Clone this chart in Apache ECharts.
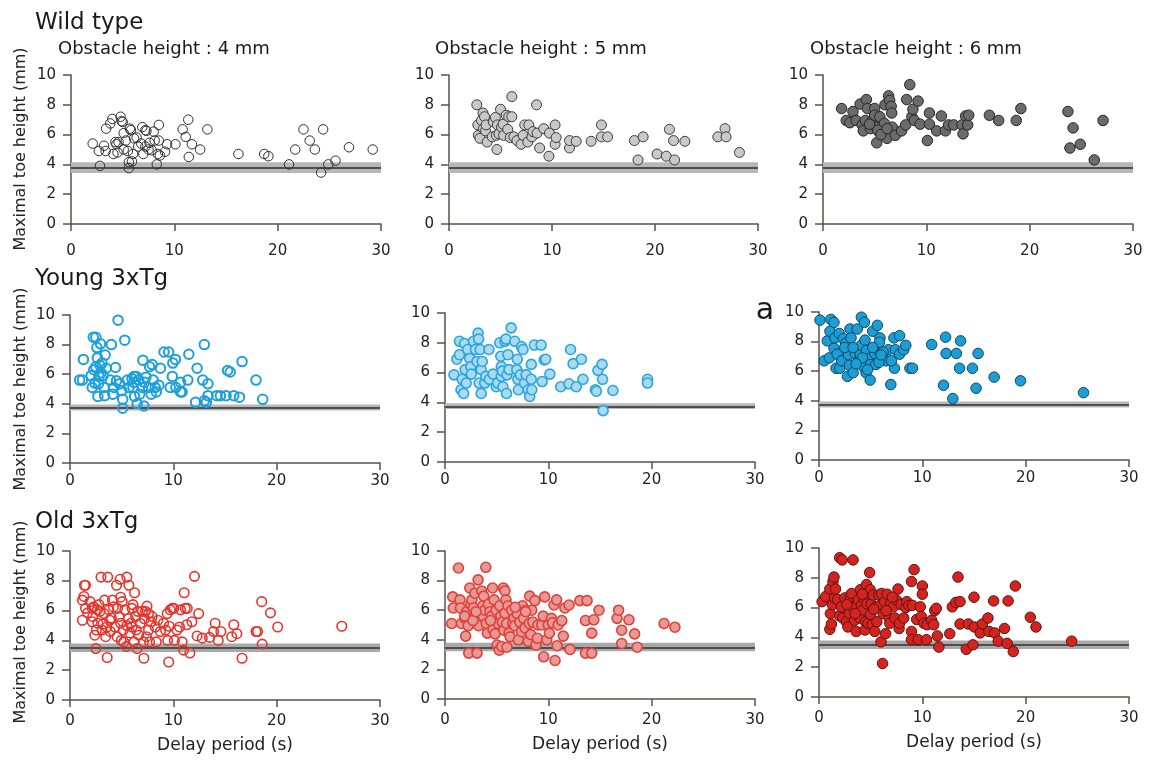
<!DOCTYPE html>
<html><head><meta charset="utf-8">
<script src="https://cdn.jsdelivr.net/npm/echarts@6/dist/echarts.min.js"></script>
<style>html,body{margin:0;padding:0;background:#fff}#c{width:1150px;height:762px}</style>
</head><body><div id="c"></div>
<script>
// ---------- text / ticks ----------
const rowTitles = ['Wild type', 'Young 3xTg', 'Old 3xTg'];
const colTitles = ['Obstacle height : 4 mm', 'Obstacle height : 5 mm', 'Obstacle height : 6 mm'];
const yName = 'Maximal toe height (mm)';
const xName = 'Delay period (s)';
const panelLetter = 'a';
const xRange = [0, 30, 10];
const yRange = [0, 10, 2];

// ---------- threshold bands [low, high, line] per row ----------
const bandWild = [3.42, 4.15, 3.77];
const bandYoung = [3.55, 3.95, 3.73];
const bandOld = [3.22, 3.8, 3.48];

// ---------- data: [delay (s), maximal toe height (mm)] ----------
const wild4 = [[2.1,5.4],[2.7,4.9],[2.8,3.9],[3.2,5.25],[3.35,4.9],[3.4,6.4],[3.8,6.75],[4.0,7.05],[4.1,4.7],[4.3,5.5],[4.4,5.35],[4.8,7.2],[4.9,6.9],[5.0,6.85],[5.1,6.1],[5.1,5.0],[5.3,5.6],[5.5,4.9],[5.6,4.15],[5.7,6.4],[5.6,3.75],[5.9,4.2],[6.0,4.7],[6.1,5.75],[6.35,5.8],[6.8,5.4],[6.9,6.5],[7.0,4.7],[7.2,6.3],[7.2,5.2],[7.3,6.25],[7.6,5.45],[7.8,4.95],[8.0,6.2],[8.1,5.6],[8.3,4.0],[8.4,4.7],[8.5,6.65],[8.5,5.6],[8.6,4.6],[9.1,4.85],[9.3,5.35],[10.1,5.35],[10.8,6.35],[11.1,5.85],[11.35,7.0],[11.4,4.5],[11.7,5.35],[12.5,5.0],[13.2,6.35],[16.2,4.7],[18.7,4.7],[19.1,4.55],[21.1,4.0],[21.7,5.0],[22.5,6.35],[23.1,5.6],[23.6,5.0],[24.2,3.45],[24.4,6.35],[24.9,4.0],[25.6,4.25],[26.9,5.15],[29.2,5.0],[4.6,5.5],[6.5,5.2],[7.5,5.0],[5.8,6.3],[4.5,4.8]];
const wild5 = [[2.7,8.0],[2.8,6.65],[2.85,5.95],[3.0,5.75],[3.15,6.95],[3.3,7.45],[3.35,6.4],[3.45,7.2],[3.55,6.25],[3.6,6.65],[3.7,5.5],[4.2,5.85],[4.3,6.85],[4.5,7.15],[4.6,5.95],[4.65,5.0],[4.7,6.65],[4.85,6.05],[5.0,7.7],[5.1,6.5],[5.25,6.7],[5.3,5.95],[5.55,7.3],[5.7,6.35],[5.8,7.2],[5.95,5.8],[6.1,8.55],[6.1,7.2],[6.3,5.85],[6.6,5.6],[7.0,5.35],[7.2,5.95],[7.35,6.65],[7.65,5.5],[7.75,6.65],[8.05,5.85],[8.15,6.2],[8.5,8.0],[8.55,6.1],[8.8,5.1],[9.2,6.4],[9.7,4.55],[9.75,6.1],[10.3,6.65],[10.3,5.35],[10.4,5.8],[11.7,5.1],[11.7,5.6],[12.35,5.55],[13.8,5.55],[14.8,6.65],[14.8,5.85],[15.4,5.85],[18.0,5.6],[18.35,4.3],[18.85,5.85],[20.2,4.7],[21.1,4.55],[21.4,6.35],[21.8,5.6],[21.9,4.3],[22.9,5.55],[26.1,5.85],[26.8,6.4],[26.9,5.85],[28.2,4.8]];
const wild6 = [[1.8,7.75],[2.25,6.95],[2.6,6.8],[2.9,7.55],[3.2,6.95],[3.6,8.05],[3.8,6.65],[3.9,6.25],[4.1,6.95],[4.2,8.35],[4.3,7.75],[4.6,6.4],[4.8,6.95],[5.0,7.75],[5.0,7.3],[5.15,6.5],[5.2,5.45],[5.4,6.2],[5.5,7.2],[5.65,6.1],[5.9,6.2],[5.95,6.75],[6.0,8.0],[6.2,5.75],[6.35,8.6],[6.45,8.3],[6.6,7.9],[6.65,7.45],[6.7,6.5],[7.0,5.95],[7.6,6.25],[8.0,6.65],[8.1,8.35],[8.4,9.35],[8.6,7.2],[8.7,7.7],[8.85,6.95],[9.2,8.25],[9.4,6.7],[10.1,5.6],[10.3,7.45],[10.3,6.7],[11.0,6.25],[11.45,7.25],[11.85,6.25],[12.15,6.65],[12.65,6.65],[13.45,6.65],[13.55,6.05],[13.8,7.25],[14.0,6.65],[14.1,7.3],[16.1,7.3],[17.0,6.95],[18.7,6.95],[19.15,7.75],[23.7,7.55],[23.9,5.1],[24.2,6.45],[24.9,5.35],[26.25,4.3],[27.1,6.95],[5.3,6.3],[5.6,6.0],[6.2,6.4],[4.5,6.7]];
const young4 = [[0.93,5.6],[1.2,5.6],[1.3,7.0],[2.05,5.9],[2.15,5.1],[2.25,8.5],[2.5,8.5],[2.5,6.5],[2.6,7.8],[2.65,7.1],[2.7,4.5],[2.75,5.35],[2.8,5.85],[2.9,6.6],[2.95,8.05],[3.1,6.75],[3.2,5.9],[3.3,5.1],[3.35,4.55],[3.4,7.3],[3.5,6.4],[3.9,5.6],[4.0,8.0],[4.15,4.65],[4.25,5.1],[4.4,6.45],[4.5,5.55],[4.65,9.65],[4.8,5.35],[5.0,4.9],[5.1,4.3],[5.1,3.7],[5.3,8.3],[5.55,5.6],[5.7,5.1],[6.1,5.1],[6.2,5.45],[6.2,5.85],[6.25,4.5],[6.4,5.85],[6.5,4.0],[6.65,5.6],[6.75,4.65],[7.0,5.1],[7.05,6.95],[7.15,3.85],[7.2,5.45],[7.35,5.8],[7.6,5.1],[7.7,6.5],[7.85,4.65],[7.95,6.65],[8.05,5.6],[8.25,5.1],[8.35,4.8],[8.6,5.25],[8.75,6.4],[9.1,7.5],[9.55,7.5],[9.7,5.1],[9.9,5.85],[9.95,6.75],[10.2,7.0],[10.25,5.1],[10.7,5.45],[10.7,4.8],[10.85,4.8],[11.4,5.6],[11.5,7.35],[12.3,6.4],[12.15,4.1],[12.85,5.6],[13.0,8.0],[13.0,4.2],[13.2,4.1],[13.35,5.35],[13.35,4.55],[14.2,4.55],[14.55,4.55],[15.1,4.55],[15.25,6.25],[15.5,6.15],[15.85,4.55],[16.4,4.45],[16.65,6.85],[18.0,5.6],[18.65,4.3],[2.3,6.3],[3.0,6.1],[6.0,5.7],[2.4,5.4]];
const young5 = [[0.87,5.85],[1.15,6.9],[1.4,8.1],[1.4,7.2],[1.55,4.85],[1.65,5.55],[1.8,4.6],[1.9,7.95],[1.95,6.2],[2.05,5.3],[2.2,7.55],[2.4,6.95],[2.5,6.4],[2.55,5.9],[2.75,8.1],[2.95,7.55],[3.1,6.75],[3.2,8.65],[3.25,8.25],[3.3,5.3],[3.4,7.55],[3.5,6.2],[3.5,4.6],[3.6,6.75],[3.85,5.3],[3.95,5.75],[4.25,7.55],[4.3,5.55],[4.65,5.9],[4.95,5.05],[5.1,5.3],[5.3,8.0],[5.4,7.1],[5.45,6.4],[5.45,5.75],[5.55,6.1],[5.6,5.05],[5.8,8.1],[5.9,8.25],[5.95,4.6],[6.0,5.85],[6.1,7.2],[6.2,6.2],[6.4,9.0],[6.75,8.1],[6.95,6.2],[7.0,6.9],[7.05,5.55],[7.1,4.85],[7.3,5.85],[7.4,7.75],[7.55,7.55],[7.7,5.3],[7.85,5.85],[8.05,4.85],[8.2,4.4],[8.35,6.55],[8.35,5.55],[8.4,4.85],[8.65,7.85],[9.3,7.85],[9.4,5.4],[9.6,6.85],[9.75,6.9],[10.15,5.9],[11.2,5.05],[12.0,5.25],[12.15,7.55],[12.4,6.6],[12.7,5.05],[13.2,6.9],[13.35,5.55],[14.55,4.85],[14.65,4.75],[14.8,6.15],[15.2,6.55],[15.25,5.55],[15.3,3.45],[16.25,4.8],[19.6,5.55],[19.6,5.3]];
const young6 = [[0.1,9.45],[0.5,6.7],[0.8,8.05],[1.0,6.9],[1.06,8.7],[1.15,9.5],[1.45,9.3],[1.45,7.55],[1.55,8.25],[1.65,6.2],[1.75,7.15],[1.95,8.55],[2.0,6.2],[2.2,6.7],[2.35,8.2],[2.6,7.9],[2.75,5.65],[2.85,7.1],[2.95,6.4],[3.0,8.85],[3.1,8.25],[3.3,5.9],[3.5,7.2],[3.7,8.85],[3.8,6.7],[4.0,7.1],[4.1,9.65],[4.1,7.75],[4.3,6.3],[4.4,9.3],[4.45,8.1],[4.55,5.9],[4.6,7.4],[4.8,6.85],[4.95,5.4],[5.0,6.45],[5.2,8.7],[5.4,7.2],[5.5,6.45],[5.65,9.1],[5.75,7.4],[5.9,8.25],[5.85,7.95],[6.5,6.7],[6.7,7.45],[6.95,5.1],[7.25,8.25],[7.3,6.2],[7.4,7.45],[7.8,8.4],[7.8,7.15],[8.2,7.45],[8.4,7.75],[8.8,6.2],[9.05,6.2],[10.9,7.8],[12.05,5.05],[12.25,8.3],[12.3,7.2],[12.95,4.15],[13.3,7.2],[13.6,6.2],[13.7,8.05],[14.85,6.2],[15.2,4.85],[15.4,7.2],[16.95,5.6],[19.5,5.35],[25.6,4.55],[2.5,7.6],[3.3,7.6],[4.2,6.9],[5.2,7.6],[3.6,6.5],[4.7,6.1],[5.8,6.6],[6.2,7.3],[7.0,6.7],[6.0,7.1]];
const old4 = [[1.2,5.35],[1.2,6.7],[1.35,6.95],[1.4,7.7],[1.5,7.7],[1.5,6.15],[1.7,5.85],[1.95,6.6],[2.15,6.15],[2.15,5.25],[2.3,6.25],[2.4,4.35],[2.5,3.45],[2.55,4.7],[2.65,6.05],[2.7,5.15],[2.9,5.95],[3.0,8.25],[3.1,4.7],[3.3,5.8],[3.35,6.7],[3.45,4.25],[3.55,4.9],[3.6,2.85],[3.65,8.25],[3.75,6.05],[3.85,5.35],[3.9,4.6],[4.1,6.7],[4.2,6.25],[4.35,4.9],[4.5,7.7],[4.55,4.25],[4.6,6.15],[4.75,5.6],[4.85,8.1],[4.9,6.9],[4.9,5.15],[4.95,4.0],[5.05,6.6],[5.15,4.7],[5.2,3.9],[5.3,6.05],[5.45,3.6],[5.5,8.25],[5.65,5.45],[5.7,7.7],[5.8,4.5],[5.9,5.15],[6.0,6.15],[6.1,6.4],[6.2,3.9],[6.25,7.2],[6.35,5.6],[6.4,4.7],[6.5,3.45],[6.55,5.95],[6.65,4.35],[6.8,5.15],[7.0,5.95],[7.1,3.9],[7.15,2.8],[7.2,5.45],[7.3,5.95],[7.4,4.25],[7.45,6.3],[7.6,4.7],[7.7,3.9],[7.85,5.25],[7.95,5.6],[8.25,4.9],[8.35,3.9],[8.5,5.35],[8.75,4.6],[9.05,5.15],[9.25,4.7],[9.4,5.8],[9.45,4.0],[9.55,2.55],[9.6,4.95],[9.7,6.05],[9.9,6.15],[10.05,6.15],[10.1,4.0],[10.35,4.7],[10.6,4.9],[10.7,6.05],[10.85,3.9],[11.0,3.35],[11.05,7.2],[11.15,6.15],[11.3,5.05],[11.35,6.15],[11.6,3.15],[11.8,5.25],[12.05,8.3],[12.45,5.8],[12.3,4.3],[12.8,4.15],[13.5,4.2],[13.9,4.6],[14.05,5.15],[14.35,4.0],[14.6,4.6],[15.65,4.25],[15.85,5.05],[16.15,4.45],[16.65,2.8],[18.0,4.6],[18.15,4.6],[18.55,6.6],[18.6,3.75],[19.4,5.85],[20.1,4.9],[26.3,4.95],[2.2,5.6],[2.8,6.4],[3.2,5.1],[4.0,5.5],[5.5,5.0],[6.0,4.9],[7.6,5.8]];
const old5 = [[0.65,5.1],[0.75,6.9],[0.8,6.15],[1.3,8.85],[1.45,6.7],[1.5,6.15],[1.6,5.1],[1.95,5.45],[2.0,4.25],[2.1,5.9],[2.25,4.95],[2.3,3.1],[2.4,7.5],[2.5,6.4],[2.6,6.7],[2.75,6.15],[2.9,7.15],[3.1,3.1],[3.2,8.05],[3.25,4.95],[3.4,5.75],[3.55,7.3],[3.65,6.3],[3.7,5.6],[3.75,6.95],[3.85,6.0],[3.95,8.9],[4.0,5.1],[4.1,4.45],[4.2,6.4],[4.35,5.9],[4.5,5.6],[4.6,7.5],[4.65,4.7],[4.75,6.7],[4.85,4.4],[4.95,6.0],[5.05,3.65],[5.15,5.1],[5.25,3.3],[5.3,6.3],[5.4,5.6],[5.5,3.55],[5.55,5.2],[5.65,7.5],[5.7,4.65],[5.8,7.3],[5.8,5.8],[5.9,6.7],[5.95,5.1],[6.0,3.5],[6.1,6.3],[6.2,4.45],[6.3,4.2],[6.45,6.0],[6.55,5.1],[6.7,5.45],[6.75,4.95],[7.0,5.75],[7.1,4.0],[7.25,5.2],[7.4,4.55],[7.5,6.3],[7.6,5.45],[7.75,4.8],[7.85,6.0],[8.05,3.9],[8.15,5.1],[8.2,6.95],[8.3,4.35],[8.4,6.0],[8.5,5.2],[8.7,6.65],[8.8,3.65],[8.95,4.1],[9.0,5.0],[9.35,5.0],[9.5,5.6],[9.55,2.85],[9.65,6.9],[9.85,4.0],[10.0,5.0],[10.1,4.45],[10.3,5.45],[10.4,5.15],[10.55,6.35],[10.65,2.6],[10.8,6.7],[10.85,3.6],[10.95,5.0],[11.3,5.3],[11.45,4.25],[11.6,6.15],[12.0,6.35],[12.1,3.35],[13.05,6.65],[13.6,5.3],[13.6,3.1],[13.75,6.65],[14.2,3.1],[14.2,4.45],[14.4,5.35],[14.9,6.0],[16.65,5.45],[16.8,6.0],[17.1,4.65],[17.1,3.75],[17.8,5.35],[18.35,4.4],[18.6,3.5],[21.2,5.1],[22.25,4.85],[1.9,5.6],[2.7,5.3],[3.0,5.9],[4.4,5.3],[6.8,6.2],[7.8,5.9]];
const old6 = [[0.3,6.4],[0.65,6.75],[1.05,7.25],[1.05,4.55],[1.1,5.6],[1.2,4.9],[1.3,6.2],[1.35,7.75],[1.45,8.05],[1.5,6.65],[1.6,7.25],[1.8,6.55],[2.0,9.35],[2.0,5.45],[2.15,6.05],[2.25,9.2],[2.3,5.3],[2.5,6.65],[2.65,5.05],[2.8,4.7],[2.95,5.6],[3.05,6.65],[3.15,6.95],[3.25,6.05],[3.3,9.2],[3.45,5.15],[3.55,6.05],[3.6,4.4],[3.8,6.5],[3.95,5.3],[4.0,7.2],[4.1,6.15],[4.25,5.85],[4.35,6.65],[4.45,4.5],[4.5,5.05],[4.6,7.55],[4.65,6.25],[4.75,4.95],[4.9,8.35],[4.95,7.2],[5.0,5.55],[5.05,6.25],[5.15,4.85],[5.25,6.85],[5.4,4.4],[5.5,6.05],[5.6,5.05],[5.8,6.85],[5.9,6.15],[6.0,3.7],[6.05,6.95],[6.15,2.25],[6.2,5.6],[6.35,6.4],[6.45,4.25],[6.6,6.9],[6.8,5.3],[6.85,4.95],[6.95,6.3],[7.2,6.05],[7.35,5.3],[7.5,6.5],[7.65,7.25],[7.75,4.6],[7.8,4.95],[7.95,6.2],[8.2,5.3],[8.4,6.0],[8.5,6.4],[8.7,6.15],[8.95,7.75],[8.95,4.4],[8.95,3.85],[9.05,6.15],[9.2,8.55],[9.45,5.2],[9.6,3.85],[9.8,6.05],[9.9,5.4],[10.0,7.45],[10.0,6.9],[10.15,4.95],[10.4,3.85],[10.45,4.85],[10.9,5.15],[11.1,4.85],[11.2,5.8],[11.35,5.95],[11.45,4.1],[11.6,3.35],[12.65,4.25],[12.9,6.05],[13.25,6.35],[13.45,8.05],[13.65,6.4],[13.65,4.9],[14.25,3.2],[14.45,4.9],[14.9,3.5],[15.0,6.7],[15.05,4.7],[15.6,4.3],[15.8,4.9],[16.35,5.3],[16.45,4.4],[16.9,6.45],[17.0,4.3],[17.35,3.75],[17.95,4.6],[18.2,3.6],[18.3,6.45],[18.8,3.05],[19.0,7.45],[20.45,5.35],[21.0,4.7],[24.45,3.75],[2.7,6.2],[3.5,5.6],[4.2,6.9],[5.3,5.9],[6.5,5.8],[7.1,6.7]];

// ---------- layout / styling ----------
const panels = [wild4, wild5, wild6, young4, young5, young6, old4, old5, old6];
const bands = [bandWild, bandYoung, bandOld];
const gridPos = [[71,75,310,149],[449,75,309,149],[823,75,310,149],
                 [70,315,310,148],[445,313,310,149],[819,312,310,148],
                 [70,551,310,149],[445,551,310,148],[819,548,310,149]];
const styles = [
  {fill:'rgba(0,0,0,0)', border:'#2e2e2e', bw:1, size:9.5},
  {fill:'#c9c9c9', border:'#3c3c3c', bw:1, size:10},
  {fill:'#6b6b6b', border:'#252525', bw:1, size:10.5},
  {fill:'rgba(0,0,0,0)', border:'#1d9fdc', bw:2, size:9.5},
  {fill:'#aad9f0', border:'#27a6df', bw:1.6, size:10},
  {fill:'#1c9dd4', border:'#0b4864', bw:1, size:10.5},
  {fill:'rgba(0,0,0,0)', border:'#e6342b', bw:1.6, size:9.5},
  {fill:'#e59a98', border:'#e23f38', bw:1.6, size:10},
  {fill:'#d52420', border:'#581410', bw:1, size:10.5}
];
const xLabelMargin = [20, 11, 14];
const FONT = 'DejaVu Sans';
const AX = '#57514c';
const TXT = '#222';

const grid = [], xAxis = [], yAxis = [], series = [];
panels.forEach((data, i) => {
  const row = Math.floor(i / 3);
  const g = gridPos[i];
  grid.push({left: g[0], top: g[1], width: g[2], height: g[3], containLabel: false});
  xAxis.push({
    gridIndex: i, type: 'value', min: xRange[0], max: xRange[1], interval: xRange[2],
    splitLine: {show: false},
    axisLine: {show: true, onZero: false, lineStyle: {color: AX, width: 1.5}},
    axisTick: {show: true, length: 7, lineStyle: {color: AX, width: 1.5}},
    axisLabel: {margin: xLabelMargin[row], fontSize: 15, fontFamily: FONT, color: TXT},
    name: row === 2 ? xName : '', nameLocation: 'middle', nameGap: 37,
    nameTextStyle: {fontSize: 17, fontFamily: FONT, color: TXT}
  });
  yAxis.push({
    gridIndex: i, type: 'value', min: yRange[0], max: yRange[1], interval: yRange[2],
    splitLine: {show: false},
    axisLine: {show: true, onZero: false, lineStyle: {color: AX, width: 1.5}},
    axisTick: {show: true, length: 8, lineStyle: {color: AX, width: 1.5}},
    axisLabel: {margin: 15, fontSize: 15, fontFamily: FONT, color: TXT}
  });
  const b = bands[row];
  const st = styles[i];
  series.push({
    type: 'scatter', xAxisIndex: i, yAxisIndex: i, z: 3,
    data: data, symbol: 'circle', symbolSize: st.size,
    itemStyle: {color: st.fill, borderColor: st.border, borderWidth: st.bw, opacity: 1},
    emphasis: {disabled: true},
    markArea: {silent: true, z: 1,
      itemStyle: {color: row === 2 ? '#a9a9a9' : '#b7b7b7', opacity: 1},
      data: [[{xAxis: xRange[0], yAxis: b[0]}, {xAxis: xRange[1], yAxis: b[1]}]]},
    markLine: {silent: true, z: 1, symbol: ['none','none'], label: {show: false},
      lineStyle: {color: '#4e4e4e', width: 2.2, type: 'solid'},
      data: [{yAxis: b[2]}]}
  });
});

const graphic = [];
const rowTitleY = [12, 268, 511];
rowTitles.forEach((t, r) => graphic.push({type: 'text', left: 35, top: rowTitleY[r],
  style: {text: t, fontSize: 23, fontFamily: FONT, fill: '#1a1a1a'}}));
const colTitleX = [58, 435, 810];
colTitles.forEach((t, c) => graphic.push({type: 'text', left: colTitleX[c], top: 40,
  style: {text: t, fontSize: 18, fontFamily: FONT, fill: '#1a1a1a'}}));
const yNameCY = [149, 389, 622];
yNameCY.forEach(cy => graphic.push({type: 'text', x: 21, y: cy, rotation: Math.PI / 2,
  style: {text: yName, fontSize: 16, fontFamily: FONT, fill: TXT, align: 'center', verticalAlign: 'middle'}}));
graphic.push({type: 'text', x: 765, y: 311,
  style: {text: panelLetter, fontSize: 30, fontFamily: FONT, fill: '#1a1a1a', align: 'center', verticalAlign: 'middle'}});

const chart = echarts.init(document.getElementById('c'), null, {renderer: 'canvas'});
chart.setOption({animation: false, backgroundColor: '#fff', grid, xAxis, yAxis, series, graphic});
</script>
</body></html>
